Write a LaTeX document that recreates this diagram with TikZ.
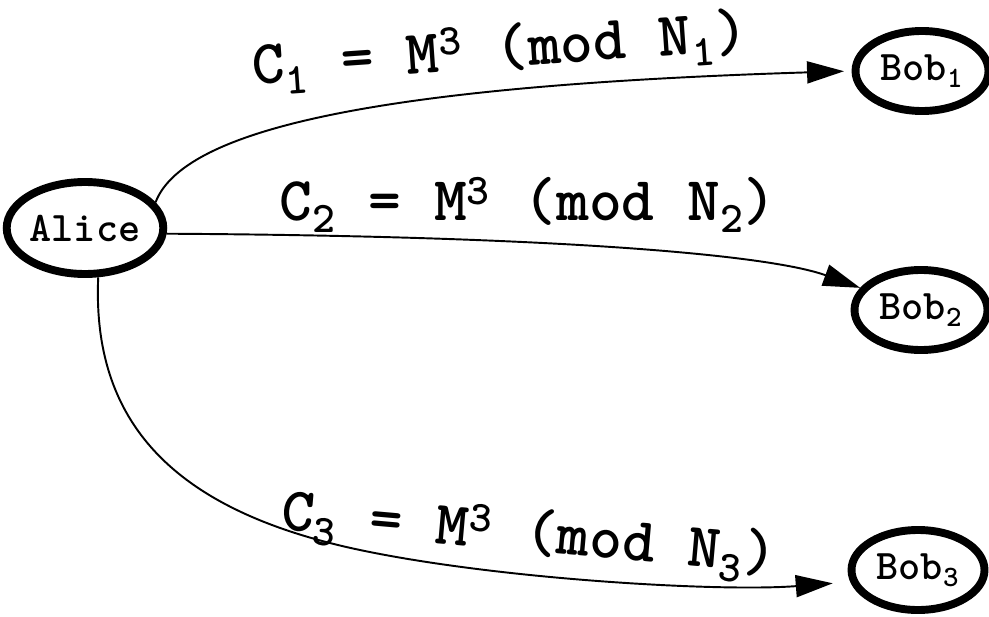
\documentclass[tikz,border=0pt]{standalone}
\usepackage{fontspec}
\newfontfamily\courbf{lmmonolt10-bold.otf}
\usetikzlibrary{shapes.geometric, arrows.meta, positioning}

\begin{document}
\begin{tikzpicture}[
    party/.style={draw, ellipse, line width=4.5pt, inner sep=0pt, minimum width=2.66cm, minimum height=1.60cm, font=\courbf\fontsize{24}{28}\selectfont},
    msg/.style={inner sep=0pt, font=\courbf\fontsize{35.5}{40}\selectfont},
    edge/.style={line width=1.1pt, -{Triangle[length=0.74cm, width=0.44cm]}},
]
    \useasboundingbox (0,0) rectangle (19.78,12.32);

    \node[party, minimum width=2.84cm, minimum height=1.84cm] (alice) at (1.70, 7.76) {Alice};
    \node[party] (bob1) at (18.44, 10.90) {Bob\textsubscript{1}};
    \node[party] (bob2) at (18.42, 6.12) {Bob\textsubscript{2}};
    \node[party] (bob3) at (18.36, 0.92) {Bob\textsubscript{3}};

    \draw[edge, shorten >=0.15cm] (alice.20) .. controls (3.70, 9.82) and (8.00, 10.62) .. (bob1.west);
    \draw[edge] (alice.-4) .. controls (11.20, 7.60) and (15.40, 7.22) .. (bob2.160);
    \draw[edge, shorten >=0.35cm] (alice.-75) .. controls (1.84, 3.92) and (3.40, 2.12) .. (7.20, 1.32)
        .. controls (10.00, 0.73) and (14.40, 0.48) .. (bob3.-170);

    \node[msg, rotate=4] (m1) at (10.00, 11.28) {C\textsubscript{1} = M\textsuperscript{3} (mod N\textsubscript{1})};
    \node[msg] (m2) at (10.56, 8.22) {C\textsubscript{2} = M\textsuperscript{3} (mod N\textsubscript{2})};
    \node[msg, rotate=-5] (m3) at (10.58, 1.60) {C\textsubscript{3} = M\textsuperscript{3} (mod N\textsubscript{3})};
\end{tikzpicture}
\end{document}
